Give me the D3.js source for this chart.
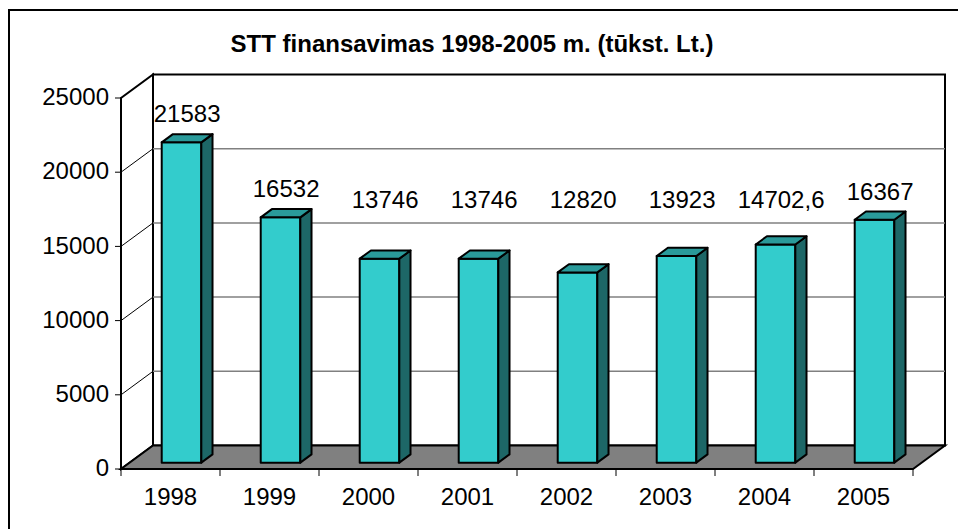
<!DOCTYPE html>
<html>
<head>
<meta charset="utf-8">
<script src="https://cdn.jsdelivr.net/npm/d3@7"></script>
<style>
  body { margin: 0; background: #fff; }
  svg text { font-family: "Liberation Sans", Arial, sans-serif; font-size: 24px; fill: #000; }
</style>
</head>
<body>
<svg id="chart" width="958" height="529"></svg>
<script>
// Data.
const years  = [ '1998', '1999', '2000', '2001', '2002', '2003', '2004', '2005' ];
const values = [ 21583, 16532, 13746, 13746, 12820, 13923, 14702.6, 16367 ];
const labels = [ '21583', '16532', '13746', '13746', '12820', '13923', '14702,6', '16367' ];
const yTicks = [ 0, 5000, 10000, 15000, 20000, 25000 ];
const title  = 'STT finansavimas 1998-2005 m. (tūkst. Lt.)';

// 3D look: the depth vector from the front plane to the back wall.
const DX = 32, DY = -23.5;
const barFront = 0.27, barBack = 0.62;
const P = ( x, y, d ) => [ x + d * DX, y + d * DY ];
const pts = arr => arr.map( p => p.join( ',' ) ).join( ' ' );

const svg = d3.select( '#chart' );

// Outer frame.
svg.append( 'rect' )
  .attr( 'x', 9 ).attr( 'y', 10 )
  .attr( 'width', 960 ).attr( 'height', 530 )
  .attr( 'fill', '#fff' ).attr( 'stroke', '#000' ).attr( 'stroke-width', 2 );

// Title.
svg.append( 'text' )
  .attr( 'x', 472 ).attr( 'y', 52 )
  .attr( 'text-anchor', 'middle' )
  .style( 'font-weight', 'bold' )
  .text( title );

// Scales.
const x = d3.scaleBand( )
  .domain( years )
  .range( [ 121, 913 ] )
  .paddingInner( 0.6 )
  .paddingOuter( 0.3 )
  .align( 0.54 );
const y = d3.scaleLinear( )
  .domain( [ 0, 25000 ] )
  .range( [ 469, 98 ] );

const [ xl, xr ] = x.range( );
const [ y0, y1 ] = [ y( 0 ), y( 25000 ) ];

// Left wall.
svg.append( 'polygon' )
  .attr( 'points', pts( [ [ xl, y0 ], [ xl, y1 ], P( xl, y1, 1 ), P( xl, y0, 1 ) ] ) )
  .attr( 'fill', '#fff' ).attr( 'stroke', '#000' ).attr( 'stroke-width', 2 );

// Back wall.
svg.append( 'polygon' )
  .attr( 'points', pts( [ P( xl, y0, 1 ), P( xl, y1, 1 ), P( xr, y1, 1 ), P( xr, y0, 1 ) ] ) )
  .attr( 'fill', '#fff' ).attr( 'stroke', '#000' ).attr( 'stroke-width', 2 );

// Gridlines on the back wall and on the left wall.
const inner = yTicks.filter( t => t > 0 && t < 25000 );
svg.selectAll( '.grid' )
  .data( inner ).enter( ).append( 'line' )
  .attr( 'class', 'grid' )
  .attr( 'x1', t => P( xl, y( t ), 1 )[0] ).attr( 'y1', t => P( xl, y( t ), 1 )[1] )
  .attr( 'x2', t => P( xr, y( t ), 1 )[0] ).attr( 'y2', t => P( xr, y( t ), 1 )[1] )
  .attr( 'stroke', '#808080' ).attr( 'stroke-width', 1.5 );
svg.selectAll( '.wallgrid' )
  .data( inner ).enter( ).append( 'line' )
  .attr( 'class', 'wallgrid' )
  .attr( 'x1', xl ).attr( 'y1', t => y( t ) )
  .attr( 'x2', t => P( xl, y( t ), 1 )[0] ).attr( 'y2', t => P( xl, y( t ), 1 )[1] )
  .attr( 'stroke', '#000' ).attr( 'stroke-width', 1 );

// Floor.
svg.append( 'polygon' )
  .attr( 'points', pts( [ [ xl, y0 ], [ xr, y0 ], P( xr, y0, 1 ), P( xl, y0, 1 ) ] ) )
  .attr( 'fill', '#808080' ).attr( 'stroke', '#000' ).attr( 'stroke-width', 2 );

// Y axis.
svg.append( 'line' )
  .attr( 'x1', xl ).attr( 'y1', y0 ).attr( 'x2', xl ).attr( 'y2', y1 )
  .attr( 'stroke', '#000' ).attr( 'stroke-width', 2 );
const yAxis = svg.append( 'g' ).selectAll( 'g' )
  .data( yTicks ).enter( ).append( 'g' )
  .attr( 'transform', t => `translate(${xl},${y( t )})` );
yAxis.append( 'line' )
  .attr( 'x1', -6 ).attr( 'x2', 0 )
  .attr( 'stroke', '#000' ).attr( 'stroke-width', 1 );
yAxis.append( 'text' )
  .attr( 'x', -12 ).attr( 'dy', '0.3em' )
  .attr( 'text-anchor', 'end' )
  .text( t => t );

// X axis ticks and labels.
const step = x.step( );
const xTickPos = d3.range( years.length + 1 ).map( i => xl + i * step );
svg.selectAll( '.xtick' )
  .data( xTickPos ).enter( ).append( 'line' )
  .attr( 'class', 'xtick' )
  .attr( 'x1', d => d ).attr( 'x2', d => d )
  .attr( 'y1', y0 ).attr( 'y2', y0 + 7 )
  .attr( 'stroke', '#000' ).attr( 'stroke-width', 1 );
svg.selectAll( '.xlabel' )
  .data( years ).enter( ).append( 'text' )
  .attr( 'class', 'xlabel' )
  .attr( 'x', ( d, i ) => xl + ( i + 0.5 ) * step )
  .attr( 'y', 505 )
  .attr( 'text-anchor', 'middle' )
  .text( d => d );

// Bars.
const bars = svg.selectAll( '.bar' )
  .data( values ).enter( ).append( 'g' )
  .attr( 'class', 'bar' );
const geo = ( v, i ) => {
  const a = x( years[i] ), b = a + x.bandwidth( );
  return { a, b, top: y( v ), base: y( 0 ) };
};
bars.append( 'polygon' )
  .attr( 'points', ( v, i ) => {
    const g = geo( v, i );
    return pts( [ P( g.a, g.base, barFront ), P( g.a, g.top, barFront ), P( g.b, g.top, barFront ), P( g.b, g.base, barFront ) ] );
  } )
  .attr( 'fill', '#33cccc' );
bars.append( 'polygon' )
  .attr( 'points', ( v, i ) => {
    const g = geo( v, i );
    return pts( [ P( g.b, g.base, barFront ), P( g.b, g.top, barFront ), P( g.b, g.top, barBack ), P( g.b, g.base, barBack ) ] );
  } )
  .attr( 'fill', '#1d6767' );
bars.append( 'polygon' )
  .attr( 'points', ( v, i ) => {
    const g = geo( v, i );
    return pts( [ P( g.a, g.top, barFront ), P( g.a, g.top, barBack ), P( g.b, g.top, barBack ), P( g.b, g.top, barFront ) ] );
  } )
  .attr( 'fill', '#2a9a9a' );
bars.selectAll( 'polygon' )
  .attr( 'stroke', '#000' ).attr( 'stroke-width', 2 ).attr( 'stroke-linejoin', 'round' );

// Value labels above the bars, kept no lower than just above the 15000 gridline.
const labelFloor = P( 0, y( 15000 ), 1 )[1] - 14.5;
svg.selectAll( '.vlabel' )
  .data( values ).enter( ).append( 'text' )
  .attr( 'class', 'vlabel' )
  .attr( 'x', ( v, i ) => x( years[i] ) + x.bandwidth( ) / 2 + ( barFront + barBack ) / 2 * DX )
  .attr( 'y', v => Math.min( P( 0, y( v ), barBack )[1] - 12, labelFloor ) )
  .attr( 'text-anchor', 'middle' )
  .text( ( v, i ) => labels[i] );
</script>
</body>
</html>
